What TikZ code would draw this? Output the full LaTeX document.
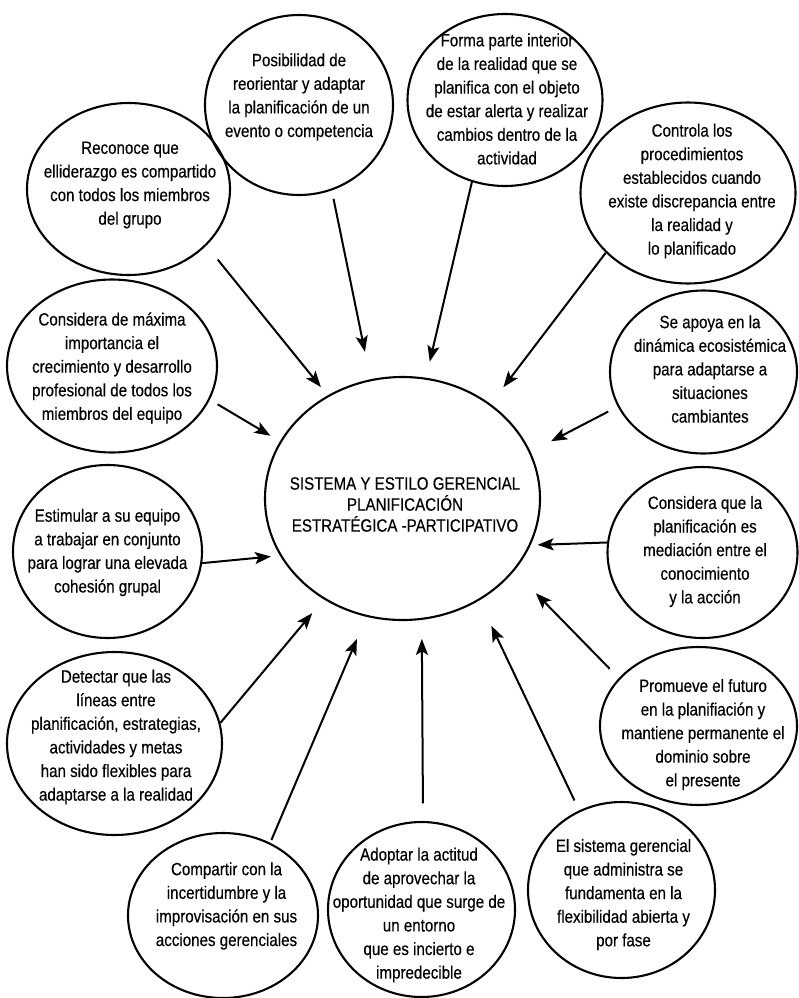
\documentclass[tikz,border=0pt]{standalone}
\usepackage{fontspec}
\setmainfont{Liberation Sans}[FakeStretch=0.85,FakeBold=0.4]
\usetikzlibrary{shapes.geometric,arrows.meta}
\begin{document}
\begin{tikzpicture}[x=1pt,y=-1pt,
  bub/.style={ellipse,draw,line width=2.1pt,inner sep=0pt},
  txt/.style={align=center,inner sep=0pt,font=\fontsize{17.8}{23.6}\selectfont},
  ctxt/.style={align=center,inner sep=0pt,font=\fontsize{17.8}{21}\selectfont},
  arr/.style={line width=2pt,-{Stealth[length=16pt,width=12pt,inset=3.5pt]}}]
\useasboundingbox (0,0) rectangle (799,998);
% central
\node[bub,minimum width=275pt,minimum height=243pt] (C) at (402.5,498.5) {};
\node[ctxt] (tC) at (405,504.5) {SISTEMA Y ESTILO GERENCIAL\\PLANIFICACIÓN\\ESTRATÉGICA -PARTICIPATIVO};
% surrounding
\node[bub,minimum width=188pt,minimum height=180pt] (A) at (299,105) {};
\node[txt] (tA) at (299,97) {Posibilidad de\\reorientar y adaptar\\la planificación de un\\evento o competencia};
\node[bub,minimum width=203pt,minimum height=172pt] (R) at (128.5,189) {};
\node[txt] (tR) at (130,185) {Reconoce que\\elliderazgo es compartido\\con todos los miembros\\del grupo};
\node[bub,minimum width=195pt,minimum height=172pt] (B) at (505,100) {};
\node[txt] (tB) at (507,99) {Forma parte interior\\de la realidad que se\\planifica con el objeto\\de estar alerta y realizar\\cambios dentro de la\\actividad};
\node[bub,minimum width=215pt,minimum height=181pt] (D) at (688,193) {};
\node[txt] (tD) at (692,191) {Controla los\\procedimientos\\establecidos cuando\\existe discrepancia entre\\la realidad y\\lo planificado};
\node[bub,minimum width=210pt,minimum height=173pt] (E) at (112,366) {};
\node[txt] (tE) at (112,368) {Considera de máxima\\importancia el\\crecimiento y desarrollo\\profesional de todos los\\miembros del equipo};
\node[bub,minimum width=187pt,minimum height=163pt] (F) at (703.5,372) {};
\node[txt] (tF) at (710,369) {Se apoya en la\\dinámica ecosistémica\\para adaptarse a\\situaciones\\cambiantes};
\node[bub,minimum width=189pt,minimum height=173pt] (G) at (107.5,551.5) {};
\node[txt] (tG) at (107.5,552.5) {Estimular a su equipo\\a trabajar en conjunto\\para lograr una elevada\\cohesión grupal};
\node[bub,minimum width=190pt,minimum height=171pt] (H) at (702.5,552.5) {};
\node[txt] (tH) at (705,551.5) {Considera que la\\planificación es\\mediación entre el\\conocimiento\\y la acción};
\node[bub,minimum width=215pt,minimum height=183pt] (I) at (114.5,743.5) {};
\node[txt] (tI) at (116,737) {Detectar que las\\líneas entre\\planificación, estrategias,\\actividades y metas\\han sido flexibles para\\adaptarse a la realidad};
\node[bub,minimum width=197pt,minimum height=158pt] (J) at (698.5,726) {};
\node[txt] (tJ) at (703,734.5) {Promueve el futuro\\en la planifiación y\\mantiene permanente el\\dominio sobre\\el presente};
\node[bub,minimum width=190pt,minimum height=165pt] (K) at (223,915.5) {};
\node[txt] (tK) at (226.5,906) {Compartir con la\\incertidumbre y la\\improvisación en sus\\acciones gerenciales};
\node[bub,minimum width=187pt,minimum height=175pt] (L) at (421.5,909.5) {};
\node[txt] (tL) at (419,915) {Adoptar la actitud\\de aprovechar la\\oportunidad que surge de\\un entorno\\que es incierto e\\impredecible};
\node[bub,minimum width=187pt,minimum height=176pt] (M) at (621.5,890) {};
\node[txt] (tM) at (623.5,894.5) {El sistema gerencial\\que administra se\\fundamenta en la\\flexibilidad abierta y\\por fase};
% arrows
\draw[arr,shorten <=18pt,shorten >=10.7pt] (R.-36.9) -- (C.126.7);
\draw[arr,shorten <=8.6pt,shorten >=28pt] (A.-69.9) -- (C.105.4);
\draw[arr,shorten >=16.5pt] (B.-112.4) -- (C.79.2);
\draw[arr,shorten >=21pt] (D.-144.9) -- (C.47.4);
\draw[arr,shorten <=9pt,shorten >=11pt] (E.-19.4) -- (C.155.2);
\draw[arr,shorten <=10.7pt,shorten >=23pt] (F.-158.2) -- (C.20.7);
\draw[arr,shorten >=9pt] (G.-7.4) -- (C.-155.2);
\draw[arr,shorten >=7pt] (H.174.6) -- (C.-20.6);
\draw[arr,shorten >=18pt] (I.11) -- (C.-128.3);
\draw[arr,shorten <=13pt,shorten >=31pt] (J.149.8) -- (C.-33.5);
\draw[arr,shorten <=3pt,shorten >=24pt] (K.57.9) -- (C.-107.4);
\draw[arr,shorten <=17.5pt,shorten >=19pt] (L.89) -- (C.-81.4);
\draw[arr,shorten <=11pt,shorten >=28pt] (M.118.6) -- (C.-53.1);
\end{tikzpicture}
\end{document}
